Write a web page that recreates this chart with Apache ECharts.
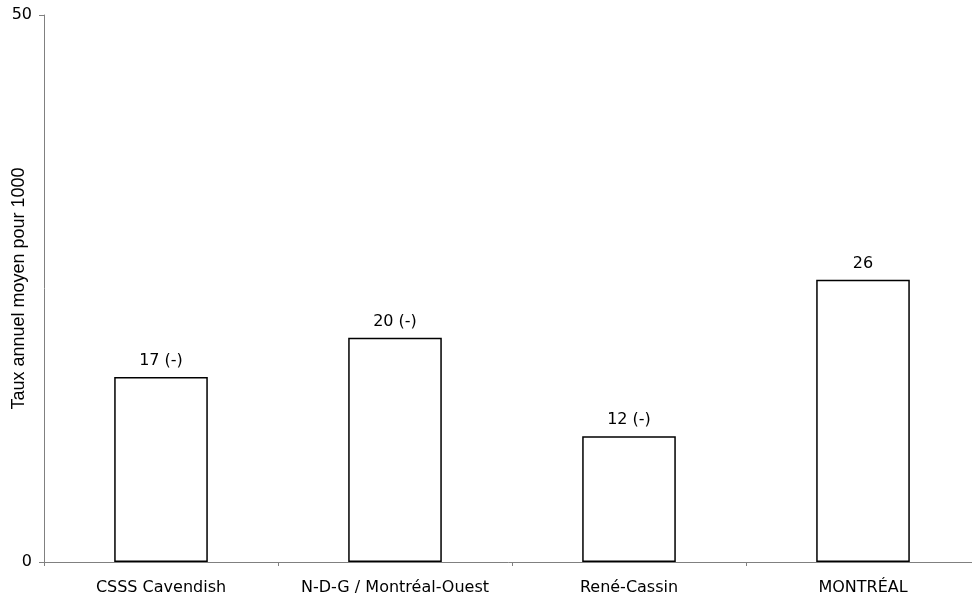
<!DOCTYPE html>
<html>
<head>
<meta charset="utf-8">
<script src="https://cdn.jsdelivr.net/npm/echarts@6/dist/echarts.min.js"></script>
<style>html,body{margin:0;padding:0;background:#fff}#c{width:972px;height:601px}</style>
</head>
<body>
<div id="c"></div>
<script>
const categories = ["CSSS Cavendish", "N-D-G / Montréal-Ouest", "René-Cassin", "MONTRÉAL"];
const values = [16.9, 20.5, 11.5, 25.8];
const valueLabels = ["17 (-)", "20 (-)", "12 (-)", "26"];
const yTitle = "Taux annuel moyen pour 1000";

const chart = echarts.init(document.getElementById('c'), null, {renderer: 'canvas'});
chart.setOption({
  animation: false,
  backgroundColor: '#fff',
  grid: {left: 44, right: -8, top: 15, bottom: 39, containLabel: false, outerBoundsMode: 'none'},
  xAxis: {
    type: 'category',
    data: categories,
    axisLine: {lineStyle: {color: '#808080', width: 1}},
    axisTick: {show: true, interval: 0, length: 4, inside: false, lineStyle: {color: '#808080'}},
    axisLabel: {interval: 0, hideOverlap: false, color: '#000', fontFamily: 'DejaVu Sans', fontSize: 16, margin: 18}
  },
  yAxis: {
    type: 'value',
    min: 0, max: 50, interval: 50,
    name: yTitle,
    nameLocation: 'middle',
    nameRotate: 90,
    nameGap: 16,
    nameMoveOverlap: false,
    nameTextStyle: {color: '#000', fontFamily: 'Liberation Sans', fontSize: 18},
    axisLine: {show: true, lineStyle: {color: '#808080', width: 1}},
    axisTick: {show: true, length: 5, lineStyle: {color: '#808080'}},
    axisLabel: {color: '#000', fontFamily: 'DejaVu Sans', fontSize: 16, margin: 12},
    splitLine: {show: false}
  },
  series: [{
    type: 'bar',
    data: values,
    barWidth: '40%',
    itemStyle: {color: '#fff', borderColor: '#000', borderWidth: 1.5},
    label: {
      show: true, position: 'top', distance: 8,
      color: '#000', fontFamily: 'DejaVu Sans', fontSize: 16,
      formatter: p => valueLabels[p.dataIndex]
    }
  }]
});
</script>
</body>
</html>
